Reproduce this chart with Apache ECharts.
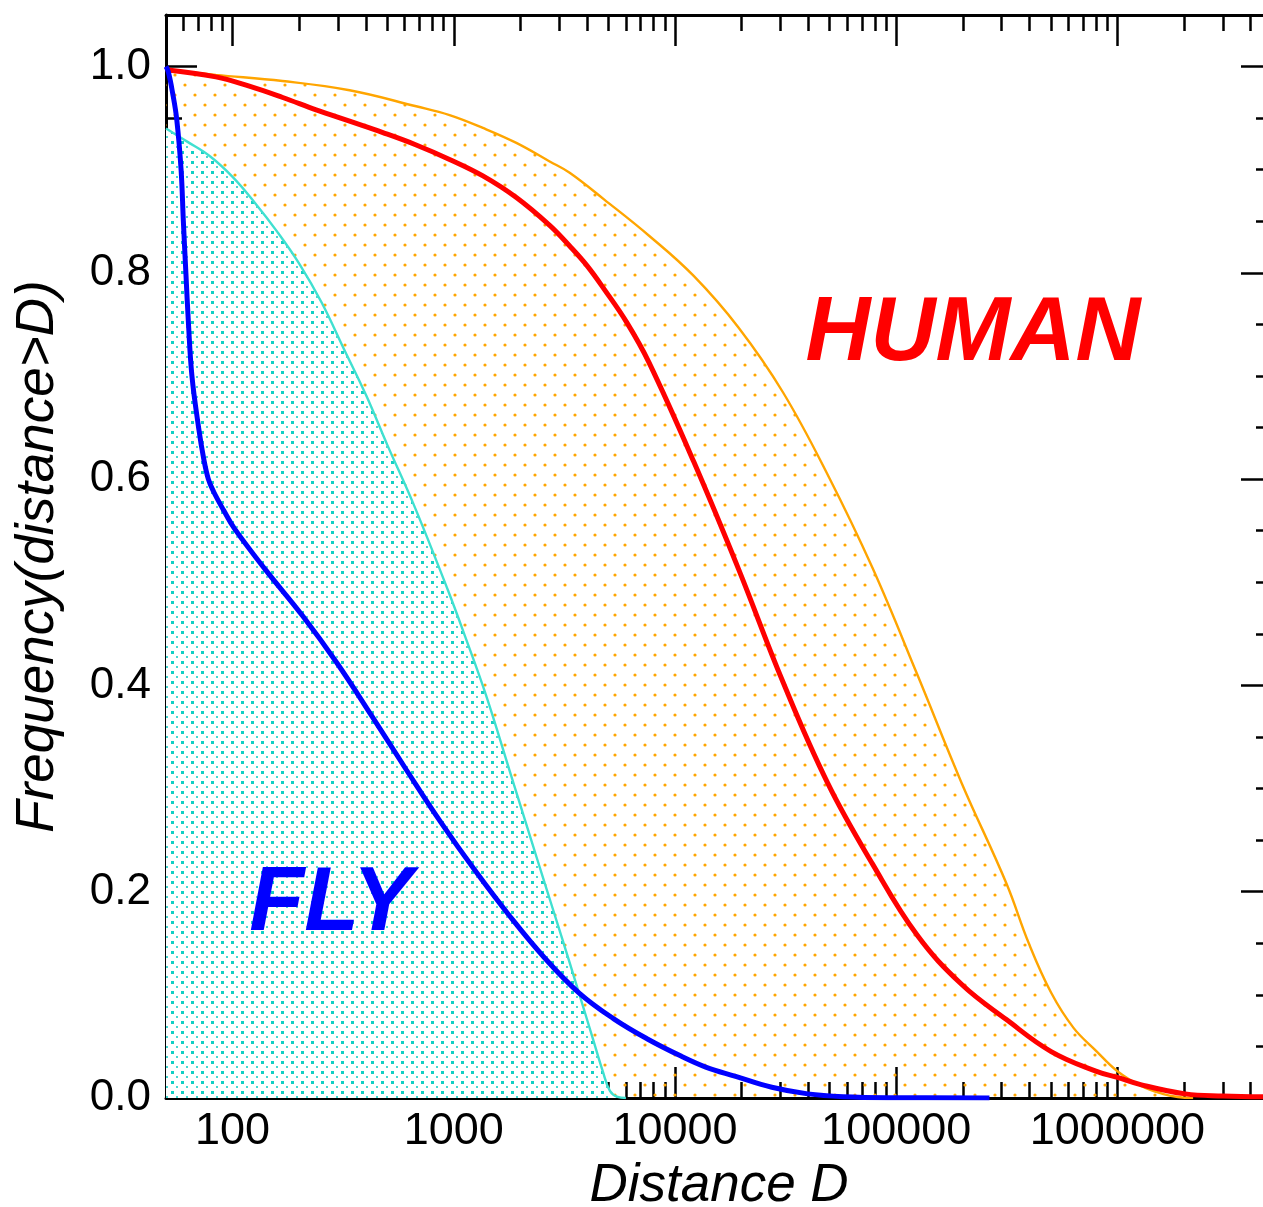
<!DOCTYPE html>
<html><head><meta charset="utf-8">
<script src="https://cdn.jsdelivr.net/npm/echarts@6/dist/echarts.min.js"></script>
<style>html,body{margin:0;padding:0;background:#fff}#c{width:1263px;height:1207px}</style>
</head><body><div id="c"></div>
<script>
// ---- data ----
const xMajorTicks = [100, 1000, 10000, 100000, 1000000];
const xMinorTicks = [60, 70, 80, 90,
  200, 300, 400, 500, 600, 700, 800, 900,
  2000, 3000, 4000, 5000, 6000, 7000, 8000, 9000,
  20000, 30000, 40000, 50000, 60000, 70000, 80000, 90000,
  200000, 300000, 400000, 500000, 600000, 700000, 800000, 900000,
  2000000, 3000000, 4000000];
const yMajorTicks = [0, 0.2, 0.4, 0.6, 0.8, 1.0];
const yMinorTicks = [0.05, 0.1, 0.15, 0.25, 0.3, 0.35, 0.45, 0.5, 0.55, 0.65, 0.7, 0.75, 0.85, 0.9, 0.95];

// HUMAN upper envelope (orange)
const humanUpper = [[50,0.997],[84,0.992],[168,0.986],[338,0.977],[676,0.9615],[957,0.953],[1354,0.9405],
  [1918,0.926],[2713,0.908],[3341,0.897],[4791,0.871],[7634,0.836],[12150,0.797],[19360,0.747],
  [30810,0.684],[49080,0.604],[78110,0.514],[124300,0.411],[198000,0.305],[315100,0.208],
  [397600,0.150],[502000,0.102],[633500,0.068],[799000,0.046],[1000000,0.026],[1273000,0.012],
  [1600000,0.004],[1876000,0.001],[2200000,0]];
// HUMAN curve (red)
const humanCurve = [[50,0.997],[84,0.990],[119,0.981],[168.5,0.970],[238.6,0.958],[338,0.947],[478,0.936],
  [676,0.924],[957,0.910],[1354,0.894],[1918,0.873],[2713,0.846],[3341,0.826],[4000,0.807],[4791,0.784],
  [6050,0.752],[7634,0.713],[12150,0.617],[19360,0.513],[30810,0.403],[49080,0.305],[78110,0.227],
  [124300,0.158],[198000,0.110],[315100,0.076],[502000,0.045],[799000,0.026],[1000000,0.020],
  [1273000,0.013],[2026000,0.004],[3000000,0.002],[5000000,0.001]];
// FLY upper envelope (cyan)
const flyUpper = [[50,0.94],[62.6,0.927],[79,0.913],[100,0.893],[126,0.868],[159,0.840],[200,0.809],
  [253,0.771],[319,0.726],[402,0.681],[501,0.633],[657,0.576],[942,0.492],[1127,0.447],
  [1396,0.391],[1796,0.316],[2225,0.252],[2570,0.209],[3075,0.156],[3678,0.102],[4246,0.058],
  [4729,0.025],[5080,0.007],[5500,0.001],[6000,0]];
// FLY curve (blue)
const flyCurve = [[50,1.0],[51.2,0.995],[53.5,0.975],[55.9,0.949],[58.5,0.90],[59.9,0.85],[61.5,0.80],
  [63.2,0.75],[65.5,0.70],[70.2,0.65],[74,0.62],[77.7,0.60],[82,0.588],[91,0.57],[102,0.552],
  [141,0.512],[208,0.467],[298,0.421],[427,0.370],[611,0.318],[876,0.267],[1253,0.220],
  [1796,0.176],[2570,0.136],[3678,0.102],[5267,0.077],[7540,0.057],[10790,0.040],[13770,0.030],
  [18800,0.021],[27400,0.0104],[39800,0.004],[57800,0.0013],[100000,0.0003],[264000,0]];

// ---- patterns ----
function orangePattern() {
  const c = document.createElement('canvas'); c.width = 20; c.height = 20;
  const g = c.getContext('2d');
  g.fillStyle = '#ffa500';
  g.beginPath(); g.arc(5, 5, 1.6, 0, Math.PI * 2); g.fill();
  g.beginPath(); g.arc(15, 15, 1.6, 0, Math.PI * 2); g.fill();
  return c;
}
function cyanPattern() {
  const c = document.createElement('canvas'); c.width = 10; c.height = 10;
  const g = c.getContext('2d');
  g.fillStyle = '#ffffff'; g.fillRect(0, 0, 10, 10);
  g.fillStyle = '#10cfc4'; g.fillRect(1, 1, 3, 3);
  g.fillStyle = '#45d9d0'; g.fillRect(6, 6, 2, 2);
  return c;
}

const FONT = 'Liberation Sans, Arial, Helvetica, sans-serif';
const X_MIN = 50, X_MAX = 5000000;

function xAx(pos, major, main) {
  return {
    type: 'log', logBase: 10, min: X_MIN, max: X_MAX, position: pos,
    splitLine: { show: false }, minorTick: { show: false },
    axisLine: { show: major, onZero: false, lineStyle: { color: '#000', width: 3 } },
    axisTick: { show: true, inside: true, length: major ? 31 : 16,
      customValues: major ? xMajorTicks : xMinorTicks, lineStyle: { color: '#000', width: 2.5 } },
    axisLabel: { show: !!main, customValues: xMajorTicks, margin: 11, fontSize: 45, color: '#000',
      fontFamily: FONT, formatter: v => String(Math.round(v)) },
    name: main ? 'Distance D' : '', nameLocation: 'middle', nameGap: 62,
    nameTextStyle: { fontSize: 53, fontStyle: 'italic', color: '#000', fontFamily: FONT }
  };
}
function yAx(pos, major, main) {
  return {
    type: 'value', min: 0, max: 1.05, position: pos,
    splitLine: { show: false }, minorTick: { show: false },
    axisLine: { show: major, onZero: false, lineStyle: { color: '#000', width: 3 } },
    axisTick: { show: true, inside: true, length: major ? 31 : 16,
      customValues: major ? yMajorTicks : yMinorTicks, lineStyle: { color: '#000', width: 2.5 } },
    axisLabel: { show: !!main, customValues: yMajorTicks, margin: 15, fontSize: 44, color: '#000',
      fontFamily: FONT, formatter: v => v.toFixed(1) },
    name: main ? 'Frequency(distance>D)' : '', nameLocation: 'middle', nameGap: 101,
    nameTextStyle: { fontSize: 53, fontStyle: 'italic', color: '#000', fontFamily: FONT }
  };
}

const chart = echarts.init(document.getElementById('c'), null, { renderer: 'canvas' });
chart.setOption({
  animation: false,
  backgroundColor: '#fff',
  grid: { left: 166, right: -9, top: 15, bottom: 109, containLabel: false, outerBoundsMode: 'none' },
  xAxis: [xAx('bottom', true, true), xAx('bottom', false), xAx('top', true), xAx('top', false)],
  yAxis: [yAx('left', true, true), yAx('left', false), yAx('right', true), yAx('right', false)],
  series: [
    { type: 'line', name: 'human envelope', data: humanUpper, smooth: 0.4, symbol: 'none', z: 1,
      lineStyle: { color: '#ffa500', width: 2.4 },
      areaStyle: { color: { image: orangePattern(), repeat: 'repeat' }, opacity: 1 } },
    { type: 'line', name: 'fly envelope', data: flyUpper, smooth: 0.4, symbol: 'none', z: 2,
      lineStyle: { color: '#40e0d0', width: 2.4 },
      areaStyle: { color: { image: cyanPattern(), repeat: 'repeat' }, opacity: 1 } },
    { type: 'line', name: 'HUMAN', data: humanCurve, smooth: 0.4, symbol: 'none', z: 3,
      lineStyle: { color: '#ff0000', width: 5 } },
    { type: 'line', name: 'FLY', data: flyCurve, smooth: 0.4, symbol: 'none', z: 4,
      lineStyle: { color: '#0000ff', width: 5 } }
  ],
  graphic: [
    { type: 'text', x: 973, y: 335, z: 10, style: { text: 'HUMAN', fill: '#ff0000',
      font: 'italic bold 90px ' + FONT, align: 'center', verticalAlign: 'middle' } },
    { type: 'text', x: 331, y: 905, z: 10, style: { text: 'FLY', fill: '#0000ff',
      font: 'italic bold 90px ' + FONT, align: 'center', verticalAlign: 'middle' } }
  ]
});
</script></body></html>
